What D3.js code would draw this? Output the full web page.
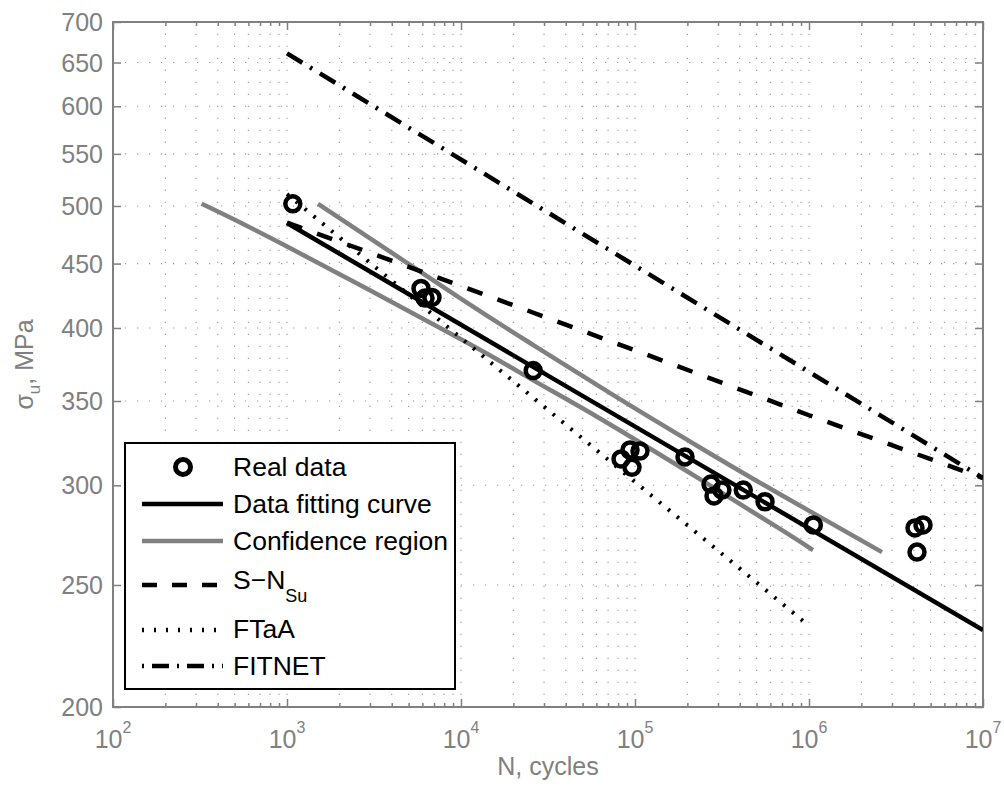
<!DOCTYPE html>
<html><head><meta charset="utf-8">
<script src="https://cdn.jsdelivr.net/npm/d3@7"></script>
<style>
body{margin:0;background:#fff;}
svg{display:block;}
text{font-family:"Liberation Sans",Arial,Helvetica,sans-serif;}
</style>
</head><body>
<svg id="chart" width="1004" height="787"></svg>
<script>
// ---------- data ----------
const xTickValues = [1e2, 1e3, 1e4, 1e5, 1e6, 1e7];
const xTickExponents = ["2", "3", "4", "5", "6", "7"];
const yTickValues = [200, 250, 300, 350, 400, 450, 500, 550, 600, 650, 700];

// Real data (cycles, MPa)
const dataN = [1080, 5890, 6210, 6810, 26000, 83100, 96100, 93600, 106800, 193800,
               273500, 284500, 316000, 419000, 559000, 1059000, 4066000, 4521000, 4175000];
const dataS = [502, 430, 422.5, 423, 370, 314.8, 310, 320, 319.4, 316,
               300.7, 294.2, 297.4, 297.4, 291.1, 279, 277.5, 279, 265.5];

// Data fitting curve
const fitN = [1e3, 1e7];
const fitS = [484.7, 230.2];

// Confidence region (two bounds)
const confLowN = [323, 1000, 9870, 25900, 62900, 236000, 681000, 1054000];
const confLowS = [502, 464.3, 392.2, 363.6, 339, 303.4, 277, 266.5];
const confUpN = [1508, 9870, 25900, 74700, 236000, 681000, 2627000];
const confUpS = [502, 422.5, 387.9, 353.9, 321.5, 295.1, 265.5];

// S-N_Su
const snN = [1e3, 1e4, 1e5, 1e6, 1e7];
const snS = [485, 432, 384, 341, 304];

// FTaA
const ftaaN = [1e3, 1e6];
const ftaaS = [511, 232];

// FITNET
const fitnetN = [1e3, 1e7];
const fitnetS = [661, 304];

const legendLabels = ["Real data", "Data fitting curve", "Confidence region", "S\u2212N", "FTaA", "FITNET"];
const legendSub = ["", "", "", "Su", "", ""];

// ---------- layout ----------
const L = 113, R = 983, T = 22, B = 707;
const axisColor = "#808080";
const gray = "#808080";

const svg = d3.select("#chart");
const x = d3.scaleLog().domain([1e2, 1e7]).range([L, R]);
const y = d3.scaleLog().domain([200, 700]).range([B, T]);

svg.append("rect").attr("width", 1004).attr("height", 787).attr("fill", "#fff");

// grid
const minorX = [];
for (let k = 2; k <= 6; k++) for (let m = 1; m <= 9; m++) {
  const v = m * Math.pow(10, k);
  if (v > 1e2 && v < 1e7) minorX.push(v);
}
const grid = svg.append("g");
grid.selectAll("line.vx").data(minorX).enter().append("line")
  .attr("x1", d => x(d)).attr("x2", d => x(d)).attr("y1", B).attr("y2", T)
  .attr("stroke", "#9a9a9a").attr("stroke-width", 1.1).attr("stroke-dasharray", "1.2,10.8");
grid.selectAll("line.hy").data(yTickValues.filter(v => v > 200 && v < 700)).enter().append("line")
  .attr("x1", L).attr("x2", R).attr("y1", d => y(d)).attr("y2", d => y(d))
  .attr("stroke", "#9a9a9a").attr("stroke-width", 1.1).attr("stroke-dasharray", "1.2,10.8");

// axes (ticks inward)
const minorTicks = minorX.filter(v => !xTickValues.includes(v));
function styleAxis(g) {
  g.select(".domain").remove();
  g.selectAll(".tick line").attr("stroke", axisColor).attr("stroke-width", 1.5);
  g.selectAll(".tick text").remove();
}
svg.append("g").attr("transform", `translate(0,${B})`)
  .call(d3.axisBottom(x).tickValues(xTickValues).tickSize(-8).tickFormat("")).call(styleAxis);
svg.append("g").attr("transform", `translate(0,${B})`)
  .call(d3.axisBottom(x).tickValues(minorTicks).tickSize(-4).tickFormat("")).call(styleAxis);
svg.append("g").attr("transform", `translate(0,${T})`)
  .call(d3.axisTop(x).tickValues(xTickValues).tickSize(-8).tickFormat("")).call(styleAxis);
svg.append("g").attr("transform", `translate(0,${T})`)
  .call(d3.axisTop(x).tickValues(minorTicks).tickSize(-4).tickFormat("")).call(styleAxis);
svg.append("g").attr("transform", `translate(${L},0)`)
  .call(d3.axisLeft(y).tickValues(yTickValues).tickSize(-8).tickFormat("")).call(styleAxis);
svg.append("g").attr("transform", `translate(${R},0)`)
  .call(d3.axisRight(y).tickValues(yTickValues).tickSize(-8).tickFormat("")).call(styleAxis);

svg.append("rect").attr("x", L).attr("y", T).attr("width", R - L).attr("height", B - T)
  .attr("fill", "none").attr("stroke", axisColor).attr("stroke-width", 2);

// tick labels
svg.append("g").selectAll("text").data(yTickValues).enter().append("text")
  .attr("x", L - 10).attr("y", d => y(d) + 9).attr("text-anchor", "end")
  .attr("font-size", 25).attr("fill", axisColor).text(d => d);
const xl = svg.append("g").selectAll("text").data(xTickValues).enter().append("text")
  .attr("x", d => x(d)).attr("y", B + 41).attr("text-anchor", "middle")
  .attr("font-size", 25).attr("fill", axisColor);
xl.append("tspan").text("10");
xl.append("tspan").attr("dy", -15).attr("font-size", 16).text((d, i) => xTickExponents[i]);

// axis titles
svg.append("text").attr("x", (L + R) / 2).attr("y", 775).attr("text-anchor", "middle")
  .attr("font-size", 25).attr("fill", axisColor).text("N, cycles");
const yt = svg.append("text").attr("transform", `translate(33,${(T + B) / 2}) rotate(-90)`)
  .attr("text-anchor", "middle").attr("font-size", 25).attr("fill", axisColor);
yt.append("tspan").text("\u03C3");
yt.append("tspan").attr("dy", 7).attr("font-size", 17).text("u");
yt.append("tspan").attr("dy", -7).text(", MPa");

// plot content
svg.append("clipPath").attr("id", "clip").append("rect")
  .attr("x", L).attr("y", T).attr("width", R - L).attr("height", B - T);
const plot = svg.append("g").attr("clip-path", "url(#clip)");
const line = d3.line().x(d => x(d[0])).y(d => y(d[1]));
const smooth = d3.line().x(d => x(d[0])).y(d => y(d[1])).curve(d3.curveNatural);
const zip = (a, b) => a.map((v, i) => [v, b[i]]);

plot.append("path").datum(zip(confLowN, confLowS)).attr("d", smooth)
  .attr("fill", "none").attr("stroke", gray).attr("stroke-width", 4.5);
plot.append("path").datum(zip(confUpN, confUpS)).attr("d", smooth)
  .attr("fill", "none").attr("stroke", gray).attr("stroke-width", 4.5);
plot.append("path").datum(zip(fitN, fitS)).attr("d", line)
  .attr("fill", "none").attr("stroke", "#000").attr("stroke-width", 4.5);
plot.append("path").datum(zip(snN, snS)).attr("d", line)
  .attr("fill", "none").attr("stroke", "#000").attr("stroke-width", 4.5).attr("stroke-dasharray", "16,16");
plot.append("path").datum(zip(ftaaN, ftaaS)).attr("d", line)
  .attr("fill", "none").attr("stroke", "#000").attr("stroke-width", 4).attr("stroke-dasharray", "2.5,9");
plot.append("path").datum(zip(fitnetN, fitnetS)).attr("d", line)
  .attr("fill", "none").attr("stroke", "#000").attr("stroke-width", 4.5).attr("stroke-dasharray", "18,9,2.5,9");

plot.selectAll("circle.pt").data(zip(dataN, dataS)).enter().append("circle")
  .attr("cx", d => x(d[0])).attr("cy", d => y(d[1])).attr("r", 7.5)
  .attr("fill", "none").attr("stroke", "#000").attr("stroke-width", 4.5);

// legend
const lg = svg.append("g");
lg.append("rect").attr("x", 125).attr("y", 443).attr("width", 330).attr("height", 246)
  .attr("fill", "#fff").attr("stroke", "#000").attr("stroke-width", 2);
const rowY = [467, 504, 541, 585, 630, 666];
const baseY = [476, 513, 550, 589, 638, 675];
lg.append("circle").attr("cx", 183).attr("cy", rowY[0]).attr("r", 7.5)
  .attr("fill", "none").attr("stroke", "#000").attr("stroke-width", 5);
const legStyles = [null,
  {c: "#000", w: 4.5, d: null},
  {c: gray, w: 4.5, d: null},
  {c: "#000", w: 4.5, d: "15,15"},
  {c: "#000", w: 4.5, d: "2,10"},
  {c: "#000", w: 4.5, d: "2,8,17,8,2,8,17,8"}];
legStyles.forEach((s, i) => {
  if (!s) return;
  lg.append("line").attr("x1", 142).attr("x2", 223).attr("y1", rowY[i]).attr("y2", rowY[i])
    .attr("stroke", s.c).attr("stroke-width", s.w).attr("stroke-dasharray", s.d);
});
legendLabels.forEach((t, i) => {
  const tx = lg.append("text").attr("x", 233).attr("y", baseY[i]).attr("font-size", 26.5).attr("fill", "#000");
  tx.append("tspan").text(t);
  if (legendSub[i]) tx.append("tspan").attr("dy", 13).attr("font-size", 18).text(legendSub[i]);
});
</script>
</body></html>
